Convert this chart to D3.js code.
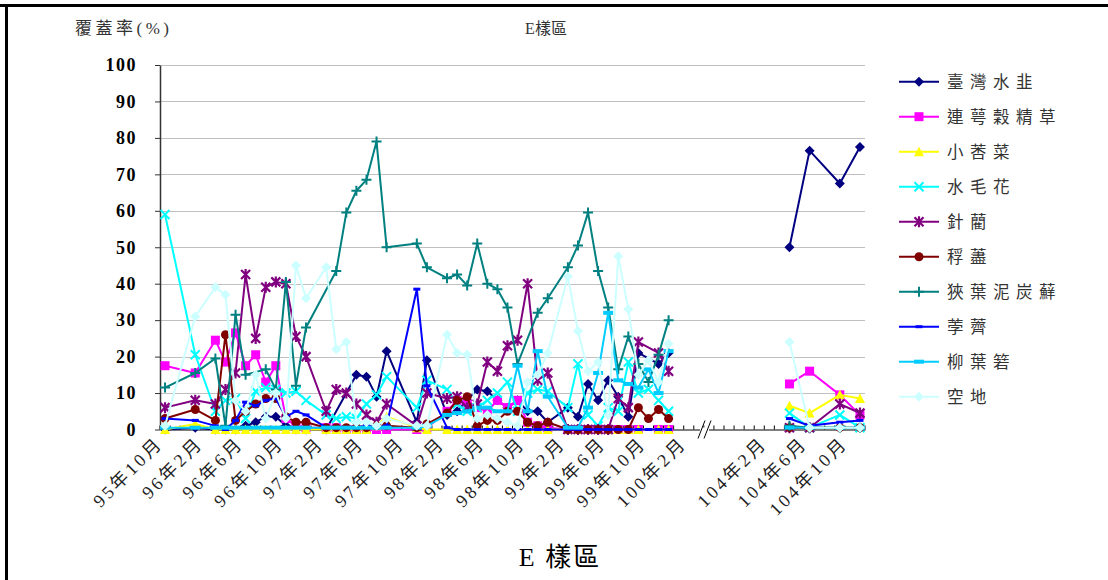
<!DOCTYPE html>
<html>
<head>
<meta charset="utf-8">
<script src="https://cdn.jsdelivr.net/npm/d3@7"></script>
<style>
  html, body { margin: 0; padding: 0; background: #fff; }
  svg { display: block; }
</style>
</head>
<body>
<svg id="chart" width="1108" height="580"></svg>
<script>
const _ = null;

// Monthly category axis; the gap after 100年2月 is a cut in time (95/10–100/2, then 104/2–104/11)
const categories = [
  "95年10月","95年11月","95年12月","96年1月","96年2月","96年3月","96年4月","96年5月","96年6月","96年7月",
  "96年8月","96年9月","96年10月","96年11月","96年12月","97年1月","97年2月","97年3月","97年4月","97年5月",
  "97年6月","97年7月","97年8月","97年9月","97年10月","97年11月","97年12月","98年1月","98年2月","98年3月",
  "98年4月","98年5月","98年6月","98年7月","98年8月","98年9月","98年10月","98年11月","98年12月","99年1月",
  "99年2月","99年3月","99年4月","99年5月","99年6月","99年7月","99年8月","99年9月","99年10月","99年11月",
  "99年12月","100年1月","100年2月","","","","","","","",
  "104年2月","104年3月","104年4月","104年5月","104年6月","104年7月","104年8月","104年9月","104年10月","104年11月"
];
const labelEvery = 4;
const yTicks = [0, 10, 20, 30, 40, 50, 60, 70, 80, 90, 100];

// Cover (%) per species, one value per month, null where not surveyed
const taiwanQuillwort = [0,_,_,0.5,_,0,0,0,1,2, 3.5,3.5,1,0,0,_,0,_,_,15, 14.5,9,21.5,_,_,2,19,_,4,5,
  8,11,10.5,8,6,8,5,5,2,_, 6,3.5,12.5,8,13.5,9,3.5,21,_,18, 21,_,_,_,_,_,_,_,_,_, _,_,50,_,76.5,_,_,67.5,_,77.5];
const pipewort = [17.5,_,_,15.5,_,24.5,18.5,26.5,17.5,20.5, 13,17.5,3,1,0.5,_,0.5,0.5,0,0, 0,0,0,_,_,0,0.5,_,5,8,
  7,6,5,8,6,8,2,1,0.5,_, 0,0,0,0,0,0,0,0,_,0, 0,_,_,_,_,_,_,_,_,_, _,_,12.5,_,16,_,_,9.5,_,4];
const floatingHeart = [0,_,_,1.5,_,0,0,0,0,0, 0,0,0,0,0,_,0,0,0,0, 0,1,3.5,_,_,0.5,0,_,0,0,
  0,0,0,0,0,0,0,0,0,_, 0,0,0,0,0,0,0,0,_,0, 0,_,_,_,_,_,_,_,_,_, _,_,6.5,_,4.5,_,_,9.5,_,8.5];
const bulrush = [59,_,_,20.5,_,5,8,8.5,3,10.5, 11.5,11,10,10.5,8,_,4,3,3.5,3, 7,9.5,14.5,_,_,6,13.5,_,11,7,
  5,6,8,10,13,5,10,11,10.5,_, 6,18,4,1,6,5,18.5,10,11,8, 5,_,_,_,_,_,_,_,_,_, _,_,4.5,_,0.5,_,_,4,_,0.5];
const spikerush = [6,_,_,8,_,7,11,15.5,42.5,25, 39,40.5,40,25.5,20,_,5,11,10,7, 4,2,7,_,_,1,10,_,8.5,9,
  6,7,18.5,16,23,24.5,40,13.5,15.5,_, 0,0,0,0,0,8.5,6,24,_,21, 16,_,_,_,_,_,_,_,_,_, _,_,0.5,_,0.5,_,_,7,_,4.5];
const ischaemum = [3,_,_,5.5,_,2.5,26,2.5,5,7, 8.5,8.5,3.5,2,2,_,0.5,0.5,0.5,0.5, 0.5,1,1,_,_,0.5,1.5,_,4.5,8,
  9,1,2.5,2.5,5,5,2,1,2,_, 0,0,0,0,0,0,0,6,3,5.5, 3,_,_,_,_,_,_,_,_,_, _,_,0.5,_,0.5,_,_,0.5,_,0.5];
const peatMoss = [11.5,_,_,15.5,_,19.5,1,31.5,15,_, 16.5,11,40.5,12,28,_,_,43.5,59.5,65.5, 68.5,79,50,_,_,51,44.5,_,41.5,42.5,
  39.5,51,40,38.5,33.5,18,_,32,36,_, 44.5,50.5,59.5,43.5,33.5,16.5,25.5,18,13,20.5, 30,_,_,_,_,_,_,_,_,_, _,_,1,_,0.5,_,_,0.5,_,0.5];
const waterChestnut = [3,_,_,2.5,_,1,0,2.5,7.5,6.5, 8,8.5,3.5,5,4,_,0.5,0.5,0.5,0.5, 1,0.5,1,_,_,38.5,12,_,0.5,0,
  0,0,0,0,0,0,0,0,0,_, 0,0,0,0,0,0,0,0,0,0, 0,_,_,_,_,_,_,_,_,_, _,_,3,_,1,_,_,2,_,2.5];
const willowGrass = [0.5,_,_,0.5,_,0.5,0.5,0.5,0.5,0.5, 0.5,0.5,0.5,0.5,0.5,_,0.5,0.5,0.5,0.5, 0.5,0.5,0.5,_,_,0.5,1,_,4,4.5,
  5,6,6,5,5,17.5,5,21.5,9,_, 0.5,0.5,6,15.5,32,13.5,12.5,11.5,16.5,10, 21.5,_,_,_,_,_,_,_,_,_, _,_,0.5,_,0.5,_,_,0.5,_,0.5];
const bareGround = [1,_,_,31,_,39,37,8,5,15, 3,10,3,45,36,_,44.5,22,24,2, 2,1,3,_,_,1,1,_,26,21,
  20.5,3,4,3,2,1,13,15,21,_, 42,27,16,18.5,4,47.5,33,15,19,13, 23.5,_,_,_,_,_,_,_,_,_, _,_,24,_,0.5,_,_,0.5,_,0.5];

const seriesNames = ["臺灣水韭","連萼穀精草","小莕菜","水毛花","針藺","稃藎","狹葉泥炭蘚","荸薺","柳葉箬","空地"];
const seriesValues = [taiwanQuillwort, pipewort, floatingHeart, bulrush, spikerush, ischaemum, peatMoss, waterChestnut, willowGrass, bareGround];
const seriesColors = ["#000080","#FF00FF","#FFFF00","#00FFFF","#800080","#800000","#008080","#0000FF","#00CCFF","#CCFFFF"];
const seriesMarkers = ["diamond","square","triangle","x","star","circle","plus","dash","bar","diamond"];

const svg = d3.select("#chart");
const plot = { left: 160, right: 865, top: 65, bottom: 429.5 };

const x = d3.scaleBand().domain(d3.range(categories.length)).range([plot.left, plot.right]);
const cx = i => x(i) + x.bandwidth() / 2;
const y = d3.scaleLinear().domain([0, 100]).range([plot.bottom, plot.top]);

const serif = "'Liberation Serif','Noto Sans CJK TC',serif";

// page frame
svg.append("line").attr("x1", 0).attr("x2", 1108).attr("y1", 5.5).attr("y2", 5.5)
  .attr("stroke", "#000").attr("stroke-width", 3);
svg.append("line").attr("x1", 6.5).attr("x2", 6.5).attr("y1", 4).attr("y2", 580)
  .attr("stroke", "#000").attr("stroke-width", 3);

// horizontal gridlines
svg.append("g").selectAll("line").data(yTicks.filter(t => t > 0)).join("line")
  .attr("x1", plot.left).attr("x2", plot.right)
  .attr("y1", d => Math.round(y(d)) + 0.5).attr("y2", d => Math.round(y(d)) + 0.5)
  .attr("stroke", "#c0c0c0").attr("stroke-width", 1);

// y axis
const yAxis = svg.append("g").attr("transform", `translate(${plot.left},0)`)
  .call(d3.axisLeft(y).tickValues(yTicks).tickSize(5).tickSizeOuter(0).tickPadding(18));
yAxis.select(".domain").attr("stroke", "#333").attr("stroke-width", 1.5);
yAxis.selectAll(".tick line").attr("stroke", "#333");
yAxis.selectAll(".tick text").attr("font-family", serif).attr("font-weight", "bold")
  .attr("font-size", 18).attr("letter-spacing", 1.5).attr("fill", "#000");

// x axis line and tick marks
const xAxis = svg.append("g").attr("transform", `translate(0,${plot.bottom})`)
  .call(d3.axisBottom(x).tickValues(d3.range(0, categories.length, 2)).tickSize(0).tickFormat(""));
xAxis.select(".domain").attr("stroke", "#000").attr("stroke-width", 1);
svg.append("g").selectAll("line").data(d3.range(0, categories.length + 1)).join("line")
  .attr("x1", i => plot.left + i * x.step()).attr("x2", i => plot.left + i * x.step())
  .attr("y1", plot.bottom - 4).attr("y2", plot.bottom)
  .attr("stroke", "#000").attr("stroke-width", 1);

// x tick labels, every fourth month
svg.append("g").selectAll("text")
  .data(d3.range(0, categories.length, labelEvery).filter(i => categories[i]))
  .join("text")
  .attr("transform", i => `translate(${cx(i) - 1},${plot.bottom + 15}) rotate(-45)`)
  .attr("text-anchor", "end")
  .attr("font-family", serif).attr("font-size", 18).attr("letter-spacing", 3)
  .attr("fill", "#222")
  .text(i => categories[i]);

// series lines and markers
function markerPath(type, g, color) {
  const s = 4.5;
  if (type === "diamond") {
    g.append("path").attr("d", `M0,${-s - 0.5}L${s + 0.5},0L0,${s + 0.5}L${-s - 0.5},0Z`).attr("fill", color);
  } else if (type === "square") {
    g.append("rect").attr("x", -s).attr("y", -s).attr("width", 2 * s).attr("height", 2 * s).attr("fill", color);
  } else if (type === "triangle") {
    g.append("path").attr("d", `M0,${-s - 0.5}L${s + 0.5},${s}L${-s - 0.5},${s}Z`).attr("fill", color);
  } else if (type === "circle") {
    g.append("circle").attr("r", s).attr("fill", color);
  } else if (type === "x") {
    g.append("path").attr("d", `M${-s},${-s}L${s},${s}M${-s},${s}L${s},${-s}`).attr("stroke", color).attr("stroke-width", 2);
  } else if (type === "star") {
    g.append("path").attr("d", `M${-s},${-s}L${s},${s}M${-s},${s}L${s},${-s}M0,${-s - 1}L0,${s + 1}`)
      .attr("stroke", color).attr("stroke-width", 2.2);
  } else if (type === "plus") {
    g.append("path").attr("d", `M${-s - 0.5},0L${s + 0.5},0M0,${-s - 0.5}L0,${s + 0.5}`).attr("stroke", color).attr("stroke-width", 2);
  } else if (type === "dash") {
    g.append("rect").attr("x", -3.5).attr("y", -1.5).attr("width", 7).attr("height", 3).attr("fill", color);
  } else if (type === "bar") {
    g.append("rect").attr("x", -5).attr("y", -2).attr("width", 10).attr("height", 4).attr("fill", color);
  }
}

const line = d3.line().x(d => cx(d.i)).y(d => y(d.v));
const seriesG = svg.append("g");
seriesValues.forEach((vals, k) => {
  const pts = vals.map((v, i) => ({ i, v })).filter(d => d.v !== null);
  // the two survey periods are drawn as separate runs
  const runs = [pts.filter(d => d.i <= 52), pts.filter(d => d.i >= 60)];
  const g = seriesG.append("g");
  runs.forEach(run => {
    g.append("path").datum(run).attr("d", line).attr("fill", "none")
      .attr("stroke", seriesColors[k]).attr("stroke-width", 2).attr("stroke-linejoin", "round");
  });
  pts.forEach(d => {
    const m = g.append("g").attr("transform", `translate(${cx(d.i)},${y(d.v)})`);
    markerPath(seriesMarkers[k], m, seriesColors[k]);
  });
});

// axis break mark
const bx = 706;
svg.append("rect").attr("x", bx - 6).attr("y", plot.bottom - 2).attr("width", 9).attr("height", 4).attr("fill", "#fff");
svg.append("path")
  .attr("d", `M${bx - 8},${plot.bottom + 9}L${bx - 1},${plot.bottom - 9}M${bx - 2},${plot.bottom + 9}L${bx + 5},${plot.bottom - 9}`)
  .attr("stroke", "#000").attr("stroke-width", 1);

// titles
svg.append("text").attr("x", 75).attr("y", 34).attr("font-family", serif).attr("font-size", 17)
  .attr("letter-spacing", 3.5).attr("fill", "#333").text("覆蓋率(%)");
svg.append("text").attr("x", 546).attr("y", 34).attr("text-anchor", "middle").attr("font-family", serif)
  .attr("font-size", 16).attr("fill", "#333").text("E樣區");
svg.append("text").attr("x", 560).attr("y", 566).attr("text-anchor", "middle").attr("font-family", serif)
  .attr("font-size", 26).attr("letter-spacing", 2).attr("fill", "#000").text("E 樣區");

// legend
const legend = svg.append("g");
seriesNames.forEach((name, k) => {
  const ly = 81.7 + k * 35;
  const g = legend.append("g").attr("transform", `translate(0,${ly})`);
  g.append("line").attr("x1", 899).attr("x2", 939).attr("y1", 0).attr("y2", 0)
    .attr("stroke", seriesColors[k]).attr("stroke-width", 2);
  markerPath(seriesMarkers[k], g.append("g").attr("transform", "translate(919,0)"), seriesColors[k]);
  g.append("text").attr("x", 947).attr("y", 6).attr("font-family", serif).attr("font-size", 16.5)
    .attr("letter-spacing", 6.5).attr("fill", "#333").text(name);
});
</script>
</body>
</html>
